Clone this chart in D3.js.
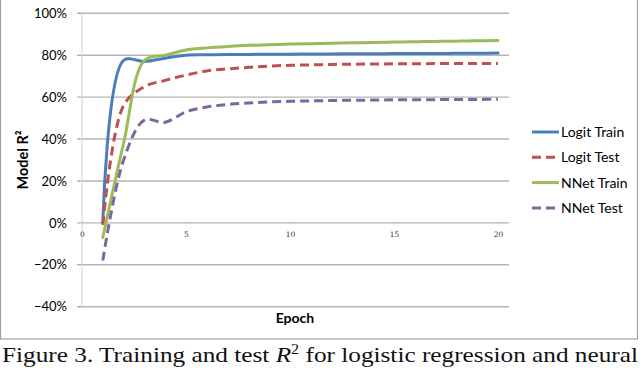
<!DOCTYPE html>
<html>
<head>
<meta charset="utf-8">
<script src="https://cdn.jsdelivr.net/npm/d3@7"></script>
<style>
	body { margin: 0; background: #fff; }
	svg { display: block; }
</style>
</head>
<body>
<div id="chart"></div>
<script>
// values (R^2 as fraction, per epoch)
var epochs = [1, 2, 3, 4, 5, 6, 7, 8, 9, 10, 11, 12, 13, 14, 15, 16, 17, 18, 19, 20];
var logitTrain = [0.00, 0.775, 0.77, 0.786, 0.80, 0.802, 0.803, 0.804, 0.805, 0.805, 0.806, 0.806, 0.807, 0.807, 0.808, 0.808, 0.808, 0.809, 0.809, 0.81];
var logitTest = [-0.01, 0.56, 0.65, 0.68, 0.705, 0.725, 0.735, 0.742, 0.748, 0.752, 0.754, 0.756, 0.757, 0.758, 0.759, 0.759, 0.76, 0.76, 0.76, 0.76];
var nnetTrain = [-0.07, 0.38, 0.775, 0.80, 0.825, 0.835, 0.842, 0.847, 0.85, 0.853, 0.855, 0.857, 0.859, 0.861, 0.863, 0.864, 0.866, 0.867, 0.869, 0.87];
var nnetTest = [-0.18, 0.30, 0.49, 0.48, 0.53, 0.553, 0.565, 0.572, 0.577, 0.58, 0.582, 0.584, 0.585, 0.586, 0.587, 0.588, 0.588, 0.589, 0.589, 0.59];

var seriesNames = ['Logit Train', 'Logit Test', 'NNet Train', 'NNet Test'];
var seriesColors = ['#4a7ebb', '#c0504d', '#9bbb59', '#8064a2'];
var seriesDashed = [false, true, false, true];
var yTicks = [-0.4, -0.2, 0, 0.2, 0.4, 0.6, 0.8, 1.0];
var xTicks = [0, 5, 10, 15, 20];

var params = {
	width: 640,
	height: 369,
	plotLeft: 82,
	plotRight: 509,
	font: 'Lato, "Open Sans", sans-serif'
};

var svg = d3.select('#chart')
	.append('svg')
		.attr('width', params.width)
		.attr('height', params.height);

// frame of the excel chart
svg.append('rect')
	.attr('x', 0.5)
	.attr('y', -5)
	.attr('width', 637)
	.attr('height', 344)
	.attr('fill', 'none')
	.attr('stroke', '#a0a0a0')
	.attr('stroke-width', 1.2);

var x = d3.scaleLinear().domain([0, 20]).range([82, 498]);
var y = d3.scaleLinear().domain([-0.4, 1.0]).range([306.7, 13.3]);

// horizontal gridlines
svg.selectAll('.grid')
	.data(yTicks).enter()
	.append('line')
		.attr('class', 'grid')
		.attr('x1', params.plotLeft - 5)
		.attr('x2', params.plotRight)
		.attr('y1', function(d) { return y(d); })
		.attr('y2', function(d) { return y(d); })
		.attr('stroke', '#b4b4b4')
		.attr('stroke-width', 1.4);

// vertical axis line
svg.append('line')
	.attr('x1', params.plotLeft).attr('x2', params.plotLeft)
	.attr('y1', y(1.0)).attr('y2', y(-0.4))
	.attr('stroke', '#d0d0d0')
	.attr('stroke-width', 1);

// y axis labels
var yAxis = d3.axisLeft(y)
	.tickValues(yTicks)
	.tickFormat(d3.format('.0%'))
	.tickSize(0)
	.tickPadding(10);
var gy = svg.append('g')
	.attr('transform', 'translate(' + (params.plotLeft - 5) + ',0)')
	.call(yAxis);
gy.select('.domain').remove();
gy.selectAll('text')
	.style('font-family', params.font)
	.style('font-size', '13px')
	.attr('fill', '#000');

// x axis on the 0% line
var xAxis = d3.axisBottom(x)
	.tickValues(xTicks)
	.tickSize(3)
	.tickPadding(7);
var gx = svg.append('g')
	.attr('transform', 'translate(0,' + (y(0) - 1.5) + ')')
	.call(xAxis);
gx.select('.domain').remove();
gx.selectAll('line').attr('stroke', '#c8c8c8');
gx.selectAll('text')
	.style('font-family', '"DejaVu Serif", serif')
	.style('font-size', '7.5px')
	.attr('fill', '#333');

// axis titles
svg.append('text')
	.attr('transform', 'translate(28,160) rotate(-90)')
	.attr('text-anchor', 'middle')
	.style('font-family', params.font)
	.style('font-size', '14.5px')
	.style('font-weight', 'bold')
	.text('Model R²');

svg.append('text')
	.attr('x', 295)
	.attr('y', 323)
	.attr('text-anchor', 'middle')
	.style('font-family', params.font)
	.style('font-size', '14px')
	.style('font-weight', 'bold')
	.text('Epoch');

// the four series
var allSeries = [logitTrain, logitTest, nnetTrain, nnetTest];
var line = d3.line()
	.x(function(d) { return x(d[0]); })
	.y(function(d) { return y(d[1]); })
	.curve(d3.curveCatmullRom.alpha(0.5));

svg.selectAll('.series')
	.data(allSeries).enter()
	.append('path')
		.attr('class', 'series')
		.attr('d', function(vals) { return line(epochs.map(function(e, i) { return [e, vals[i]]; })); })
		.attr('fill', 'none')
		.attr('stroke', function(d, i) { return seriesColors[i]; })
		.attr('stroke-width', 3)
		.attr('stroke-linecap', function(d, i) { return seriesDashed[i] ? 'butt' : 'round'; })
		.attr('stroke-dasharray', function(d, i) { return seriesDashed[i] ? '9,5' : null; });

// legend
var legend = svg.selectAll('.legend')
	.data(seriesNames).enter()
	.append('g')
		.attr('class', 'legend')
		.attr('transform', function(d, i) { return 'translate(532,' + (132 + i * 25.3) + ')'; });
legend.append('line')
	.attr('x1', 0).attr('x2', 27)
	.attr('stroke', function(d, i) { return seriesColors[i]; })
	.attr('stroke-width', 3)
	.attr('stroke-dasharray', function(d, i) { return seriesDashed[i] ? '9,5' : null; });
legend.append('text')
	.attr('x', 29)
	.attr('y', 5)
	.style('font-family', params.font)
	.style('font-size', '14px')
	.text(function(d) { return d; });

// figure caption
var cap = svg.append('text')
	.attr('x', 2)
	.attr('y', 362)
	.attr('textLength', 636)
	.attr('lengthAdjust', 'spacingAndGlyphs')
	.style('font-family', '"Liberation Serif", "Times New Roman", Times, serif')
	.style('font-size', '22px')
	.attr('fill', '#111');
cap.append('tspan').text('Figure 3. Training and test ');
cap.append('tspan').style('font-style', 'italic').text('R');
cap.append('tspan').attr('dy', -8).style('font-size', '14px').text('2');
cap.append('tspan').attr('dy', 8).text(' for logistic regression and neural');
</script>
</body>
</html>
